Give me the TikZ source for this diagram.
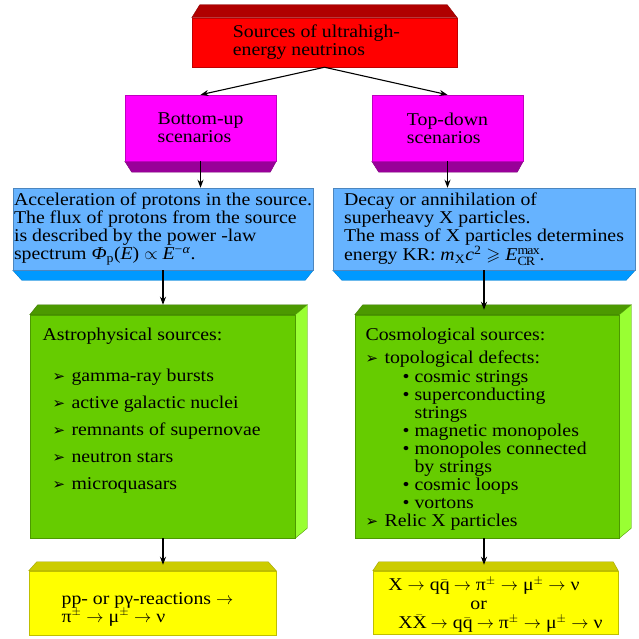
\documentclass[tikz,border=0pt]{standalone}
\usepackage{amsmath}
\usepackage{amssymb}
\usepackage{fontspec}
\setmainfont[FakeStretch=1.1]{Liberation Serif}
\newfontfamily\dejavu{DejaVu Sans}
\usetikzlibrary{calc,arrows.meta,backgrounds}

\definecolor{redfront}{HTML}{FF0000}
\definecolor{redtop}{HTML}{B00000}
\definecolor{magfront}{HTML}{FF00FF}
\definecolor{magbot}{HTML}{990099}
\definecolor{bluefront}{HTML}{66B3FF}
\definecolor{bluebot}{HTML}{0099FF}
\definecolor{greenfront}{HTML}{66CC00}
\definecolor{greentop}{HTML}{4C9900}
\definecolor{greenside}{HTML}{99FF33}
\definecolor{yelfront}{HTML}{FFFF00}
\definecolor{yeltop}{HTML}{CCCC00}

\newcommand{\pointer}{\makebox[19pt][l]{\dejavu\fontsize{15}{15}\selectfont ➢}}
\newcommand{\dotitem}{\makebox[12pt][l]{•}}

\begin{document}
\begin{tikzpicture}[x=1pt, y=-1pt, line width=1.1pt, >={Stealth[length=8pt,width=6pt]},
    box/.style = {draw=#1!75!black, fill=#1, line width=0.5pt, inner sep=0pt, align=left,
                  font=\fontsize{18}{18}\selectfont},
    txt/.style = {inner sep=0pt, anchor=north west, align=left, font=\fontsize{18}{18}\selectfont}]
  \useasboundingbox (0,0) rectangle (638,639);

  % front faces
  \node[box=redfront, minimum width=265pt, minimum height=49pt] (src) at (324.5,42.5)
       {Sources of ultrahigh-\hspace*{16pt}\\energy neutrinos};
  \node[box=magfront, minimum width=151pt, minimum height=66pt] (bu) at (200.5,128)
       {Bottom-up\\scenarios};
  \node[box=magfront, minimum width=151pt, minimum height=66pt] (td) at (447.5,128)
       {Top-down\\scenarios};
  \node[box=bluefront, minimum width=300pt, minimum height=82pt] (acc) at (163,229)
       {Acceleration of protons in the source.\\
        The flux of protons from the source\\
        is described by the power -law\\
        spectrum \textit{Φ}\textsubscript{p}(\textit{E}) $\propto$ \textit{E}\textsuperscript{−\textit{α}}.};
  \node[box=bluefront, minimum width=302pt, minimum height=82pt] (dec) at (484,229)
       {Decay or annihilation of\\
        superheavy X particles.\\
        The mass of X particles determines\\
        energy KR: \textit{m}\textsubscript{X}\textit{c}\textsuperscript{2} $\geqslant$
        \textit{E}$^{\mathrm{max}}_{\mathrm{CR}}$.};
  \node[box=greenfront, minimum width=265pt, minimum height=223pt] (astro) at (162.5,426.5) {};
  \node[box=greenfront, minimum width=264pt, minimum height=223pt] (cosmo) at (487,426.5) {};
  \node[box=yelfront, minimum width=247pt, minimum height=64pt] (pp) at (152.5,603)
       {\rule{0pt}{24pt}pp- or pγ-reactions $\rightarrow$\hspace*{10pt}\\
        π$^{\pm}$ $\rightarrow$ μ$^{\pm}$ $\rightarrow$ ν};
  \node[box=yelfront, minimum width=245pt, minimum height=63pt] (xq) at (495.5,602.5)
       {\rule{0pt}{18pt}X $\rightarrow$ q$\bar{\mathrm{q}}$ $\rightarrow$ π$^{\pm}$ $\rightarrow$ μ$^{\pm}$ $\rightarrow$ ν\\[1pt]
        \hspace*{82pt}or\\[1pt]
        \hspace*{10pt}X$\bar{\mathrm{X}}$ $\rightarrow$ q$\bar{\mathrm{q}}$ $\rightarrow$ π$^{\pm}$ $\rightarrow$ μ$^{\pm}$ $\rightarrow$ ν};

  % lists in the green boxes
  \node[txt] (astrotxt) at (42,327)
       {Astrophysical sources:\\[23pt]
        \hspace*{10pt}\pointer gamma-ray bursts\\[9pt]
        \hspace*{10pt}\pointer active galactic nuclei\\[9pt]
        \hspace*{10pt}\pointer remnants of supernovae\\[9pt]
        \hspace*{10pt}\pointer neutron stars\\[9pt]
        \hspace*{10pt}\pointer microquasars};
  \node[txt] (cosmotxt) at (365,327)
       {Cosmological sources:\\[5pt]
        \pointer topological defects:\\[1pt]
        \hspace*{37pt}\dotitem cosmic strings\\
        \hspace*{37pt}\dotitem superconducting\\
        \hspace*{49pt}strings\\
        \hspace*{37pt}\dotitem magnetic monopoles\\
        \hspace*{37pt}\dotitem monopoles connected\\
        \hspace*{49pt}by strings\\
        \hspace*{37pt}\dotitem cosmic loops\\
        \hspace*{37pt}\dotitem vortons\\
        \pointer Relic X particles};

  % bevels
  \begin{scope}[on background layer, line width=0.5pt]
    \filldraw[fill=redtop, draw=redtop!80!black] (src.north west) -- ++(8,-13)
      -- ($(src.north east)+(-10,-13)$) -- (src.north east) -- cycle;
    \filldraw[fill=magbot, draw=magbot!80!black] (bu.south west) -- ++(7,11)
      -- ($(bu.south east)+(-6,11)$) -- (bu.south east) -- cycle;
    \filldraw[fill=magbot, draw=magbot!80!black] (td.south west) -- ++(7,11)
      -- ($(td.south east)+(-6,11)$) -- (td.south east) -- cycle;
    \filldraw[fill=bluebot, draw=bluebot!80!black] (acc.south west) -- ++(9,10)
      -- ($(acc.south east)+(-8,10)$) -- (acc.south east) -- cycle;
    \filldraw[fill=bluebot, draw=bluebot!80!black] (dec.south west) -- ++(9,10)
      -- ($(dec.south east)+(-9,10)$) -- (dec.south east) -- cycle;
    \filldraw[fill=greentop, draw=greentop!80!black] (astro.north west) -- ++(8,-10)
      -- ($(astro.north east)+(12,-10)$) -- (astro.north east) -- cycle;
    \filldraw[fill=greenside, draw=greenfront!75!black] (astro.north east) -- ++(12,-10)
      -- ($(astro.south east)+(12,-10)$) -- (astro.south east) -- cycle;
    \filldraw[fill=greentop, draw=greentop!80!black] (cosmo.north west) -- ++(8,-10)
      -- ($(cosmo.north east)+(12,-10)$) -- (cosmo.north east) -- cycle;
    \filldraw[fill=greenside, draw=greenfront!75!black] (cosmo.north east) -- ++(12,-10)
      -- ($(cosmo.south east)+(12,-10)$) -- (cosmo.south east) -- cycle;
    \filldraw[fill=yeltop, draw=yeltop!80!black] (pp.north west) -- ++(8,-9)
      -- ($(pp.north east)+(-8,-9)$) -- (pp.north east) -- cycle;
    \filldraw[fill=yeltop, draw=yeltop!80!black] (xq.north west) -- ++(6,-9)
      -- ($(xq.north east)+(-5,-9)$) -- (xq.north east) -- cycle;
  \end{scope}

  % connectors
  \draw[->] (src.south) -- (bu.north);
  \draw[->] (src.south) -- (td.north);
  \draw[->] (bu.south) -- (bu.south |- acc.north);
  \draw[->] (td.south) -- (td.south |- dec.north);
  \draw[->] (acc.south) -- ($(acc.south |- astro.north)+(0,-10)$);
  \draw[->] (dec.south) -- ($(dec.south |- cosmo.north)+(0,-5)$);
  \draw[->] (acc.south |- astro.south) -- ($(acc.south |- pp.north)+(0,-6)$);
  \draw[->] (dec.south |- cosmo.south) -- ($(dec.south |- xq.north)+(0,-6)$);
\end{tikzpicture}
\end{document}
